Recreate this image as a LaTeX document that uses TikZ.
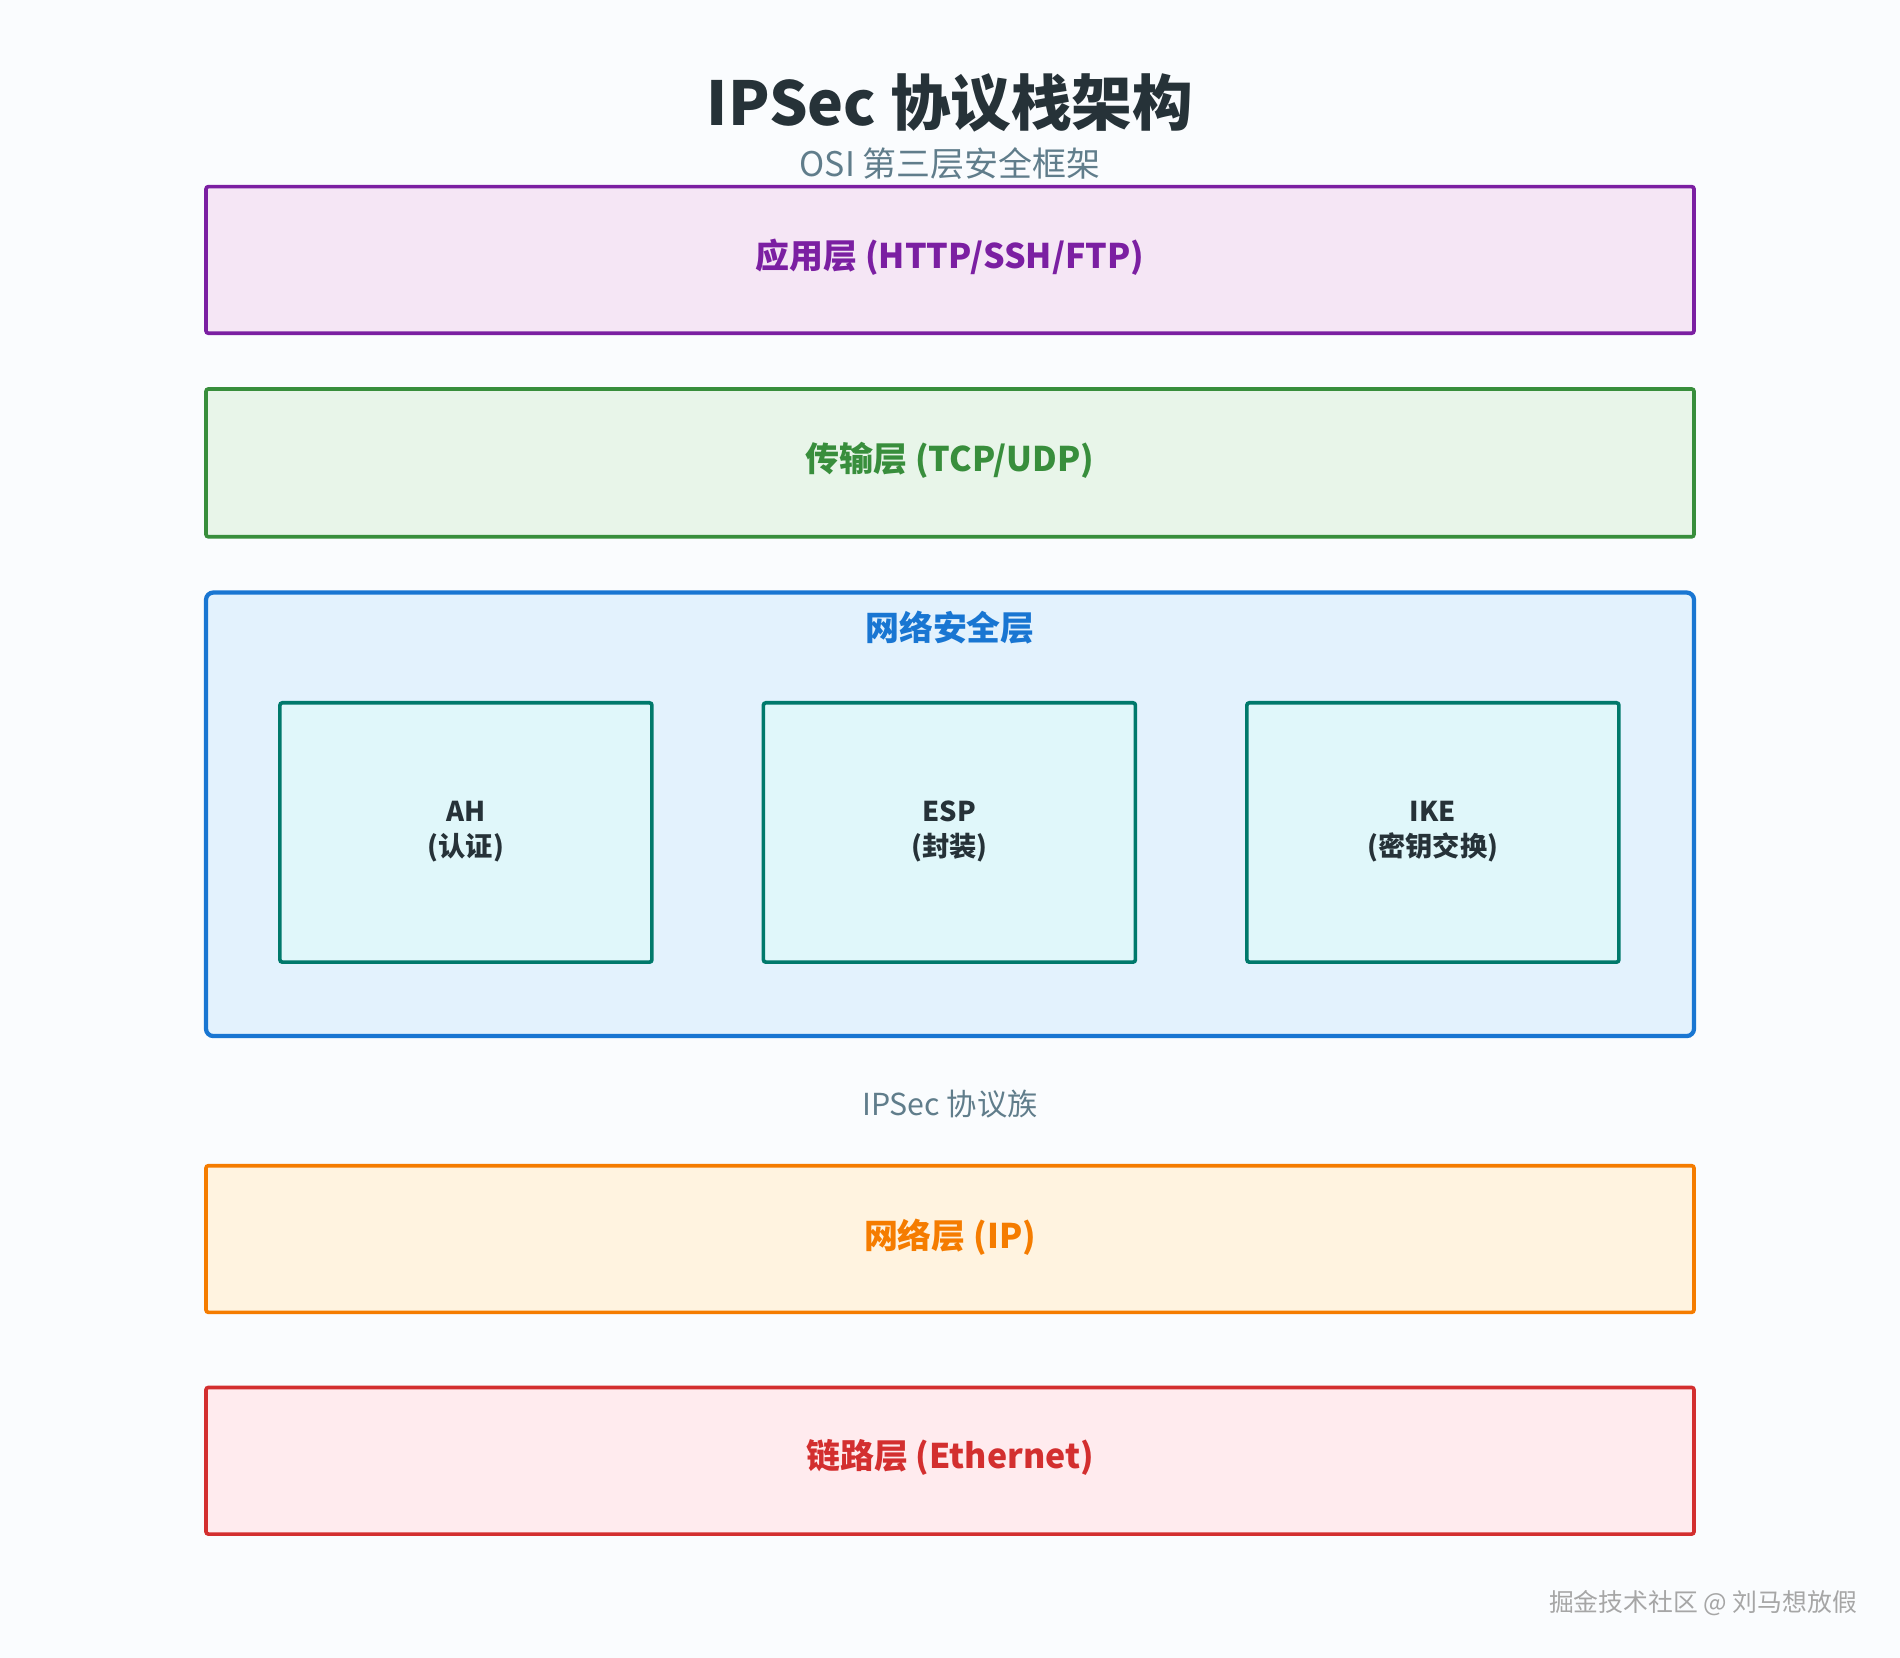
\documentclass[tikz,border=0pt]{standalone}
\usepackage{fontspec}
\setmainfont{Noto Sans CJK SC}
\definecolor{bg}{HTML}{FAFCFE}
\definecolor{pu}{HTML}{7B1FA2}\definecolor{puf}{HTML}{F5E6F5}
\definecolor{gr}{HTML}{388E3C}\definecolor{grf}{HTML}{E8F5E9}
\definecolor{bl}{HTML}{1976D2}\definecolor{blf}{HTML}{E3F2FD}
\definecolor{te}{HTML}{00796B}\definecolor{tef}{HTML}{E0F7FA}
\definecolor{orc}{HTML}{F57C00}\definecolor{orf}{HTML}{FFF3E0}
\definecolor{rd}{HTML}{D32F2F}\definecolor{rdf}{HTML}{FFEBEE}
\definecolor{gy}{HTML}{607D8B}\definecolor{dk}{HTML}{263238}
\begin{document}
\begin{tikzpicture}[x=1pt,y=-1pt,
 layer/.style={draw=#1,line width=3pt,rounded corners=2pt},
 lbl/.style={font=\fontsize{28}{32}\selectfont\bfseries,text=#1},
 sub/.style={draw=te,fill=tef,line width=3pt,rounded corners=2pt},
 subl/.style={font=\fontsize{22.5}{29}\selectfont\bfseries,text=dk,align=center}]
\fill[bg] (0,0) rectangle (1568,1368);
\useasboundingbox (0,0) rectangle (1568,1368);
\node[font=\fontsize{50}{54}\selectfont\bfseries,text=dk] (title) at (784,85) {IPSec 协议栈架构};
\node[font=\fontsize{28}{30}\selectfont,text=gy] (subt) at (784,135) {OSI 第三层安全框架};
\filldraw[layer=pu,fill=puf] (170,154) rectangle (1398,275);
\node[lbl=pu] (app) at (784,212) {应用层 (HTTP/SSH/FTP)};
\filldraw[layer=gr,fill=grf] (170,321) rectangle (1398,443);
\node[lbl=gr] (tr) at (784,380) {传输层 (TCP/UDP)};
\filldraw[layer=bl,fill=blf,line width=3.5pt,rounded corners=6pt] (170,489) rectangle (1398,855);
\node[lbl=bl] (sec) at (784,518) {网络安全层};
\filldraw[sub] (231,580) rectangle (538,794);
\node[subl] (ah) at (384.5,686) {AH\\(认证)};
\filldraw[sub] (630,580) rectangle (937,794);
\node[subl] (esp) at (783.5,686) {ESP\\(封装)};
\filldraw[sub] (1029,580) rectangle (1336,794);
\node[subl] (ike) at (1182.5,686) {IKE\\(密钥交换)};
\node[font=\fontsize{25}{28}\selectfont,text=gy] (fam) at (784,911) {IPSec 协议族};
\filldraw[layer=orc,fill=orf] (170,962) rectangle (1398,1083);
\node[lbl=orc] (net) at (784,1021) {网络层 (IP)};
\filldraw[layer=rd,fill=rdf] (170,1145) rectangle (1398,1266);
\node[lbl=rd] (lnk) at (784,1203) {链路层 (Ethernet)};
\node[font=\fontsize{20.5}{24}\selectfont,text=gray!70,anchor=east] (wm) at (1536,1323) {掘金技术社区 @ 刘马想放假};
\end{tikzpicture}
\end{document}
